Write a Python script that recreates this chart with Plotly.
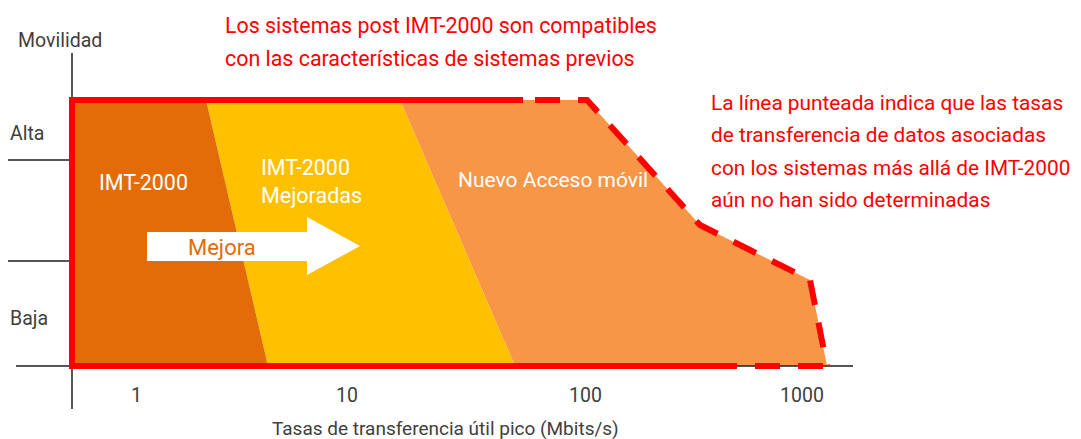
import plotly.graph_objects as go

# Diagram units: x to the right of the mobility axis, y above the rate axis
imt2000_x = [0, 0, 134, 196]
imt2000_y = [0, 266, 266, 0]

mejoradas_x = [134, 328, 443, 196]
mejoradas_y = [266, 266, 0, 0]

nuevo_x = [328, 515, 628, 738, 755, 443]
nuevo_y = [266, 266, 141, 86, 0, 0]

solid_border_x = [640, 0, 0, 451]
solid_border_y = [0, 0, 266, 266]

dashed_border_x = [463, 515, 628, 738, 755]
dashed_border_y = [266, 266, 141, 86, 0]

dashed_bottom_x = [640, 755]
dashed_bottom_y = [0, 0]

arrow_x = [75, 235, 235, 288, 235, 235, 75]
arrow_y = [134, 134, 149, 120, 91, 105, 105]

yaxis_line_x = [0, 0]
yaxis_line_y = [313, -43]
xaxis_line_x = [-56, 781]
xaxis_line_y = [0, 0]
tick_alta_x = [-64, 0]
tick_alta_y = [206, 206]
tick_baja_x = [-64, 0]
tick_baja_y = [105, 105]

mobility_labels = ["Alta", "Baja"]
mobility_label_y = [233, 48]
rate_tick_labels = ["1", "10", "100", "1000"]
rate_tick_x = [64, 275, 513, 730]

top_note = ["Los sistemas post IMT-2000 son compatibles",
            "con las características de sistemas previos"]
top_note_y = [341, 308]
right_note = ["La línea punteada indica que las tasas",
              "de transferencia de datos asociadas",
              "con los sistemas más allá de IMT-2000",
              "aún no han sido determinadas"]
right_note_y = [263, 231, 198, 166]

DARK_ORANGE = "rgb(227,108,9)"
YELLOW = "rgb(255,192,0)"
LIGHT_ORANGE = "rgb(247,150,70)"
RED = "rgb(255,0,0)"
GRAY = "rgb(64,64,64)"
AXIS = "rgb(30,30,30)"
FONT = "Roboto"

fig = go.Figure()

def poly(x, y, color):
    fig.add_trace(go.Scatter(x=x, y=y, fill="toself", fillcolor=color,
                             mode="lines", line=dict(width=0, color=color),
                             hoverinfo="skip", showlegend=False))

def line(x, y, color, width, dash=None):
    fig.add_trace(go.Scatter(x=x, y=y, mode="lines",
                             line=dict(width=width, color=color, dash=dash),
                             hoverinfo="skip", showlegend=False, cliponaxis=False))

poly(nuevo_x, nuevo_y, LIGHT_ORANGE)
poly(mejoradas_x, mejoradas_y, YELLOW)
poly(imt2000_x, imt2000_y, DARK_ORANGE)
poly(arrow_x, arrow_y, "white")

line(yaxis_line_x, yaxis_line_y, AXIS, 1.5)
line(xaxis_line_x, xaxis_line_y, AXIS, 1.5)
line(tick_alta_x, tick_alta_y, AXIS, 1.5)
line(tick_baja_x, tick_baja_y, AXIS, 1.5)

line(solid_border_x, solid_border_y, RED, 6)
line(dashed_border_x, dashed_border_y, RED, 6, "25px,18px")
line(dashed_bottom_x, dashed_bottom_y, RED, 6, "25px,18px")

ann = []
def text(x, y, s, color, size, xanchor="center", align="center"):
    ann.append(dict(x=x, y=y, xref="x", yref="y", text=s, showarrow=False,
                    xanchor=xanchor, yanchor="middle", align=align,
                    font=dict(family=FONT, size=size, color=color)))

text(-12, 326, "Movilidad", GRAY, 19.5)
for lab, yy in zip(mobility_labels, mobility_label_y):
    text(-64, yy, lab, GRAY, 19.5, "left")
for lab, xx in zip(rate_tick_labels, rate_tick_x):
    text(xx, -29, lab, GRAY, 19.5)
text(373, -62, "Tasas de transferencia útil pico (Mbits/s)", GRAY, 19)

text(71, 184, "IMT-2000", "white", 21.5)
text(187, 185, "IMT-2000<br>Mejoradas", "white", 21.5, "left", "left")
text(481, 186, "Nuevo Acceso móvil", "white", 21)
text(150, 119, "Mejora", DARK_ORANGE, 22)

for s, yy in zip(top_note, top_note_y):
    text(151, yy, s, RED, 21.4, "left", "left")
for s, yy in zip(right_note, right_note_y):
    text(637, yy, s, RED, 20.8, "left", "left")

# page body adds an 8px offset; the figure is sized/ranged to compensate
fig.update_layout(
    width=1073, height=431,
    margin=dict(l=0, r=0, t=0, b=0),
    paper_bgcolor="white", plot_bgcolor="white",
    xaxis=dict(range=[-64, 1009], visible=False, fixedrange=True),
    yaxis=dict(range=[-73, 358], visible=False, fixedrange=True),
    annotations=ann,
    showlegend=False,
)

fig.write_html("out.html")
